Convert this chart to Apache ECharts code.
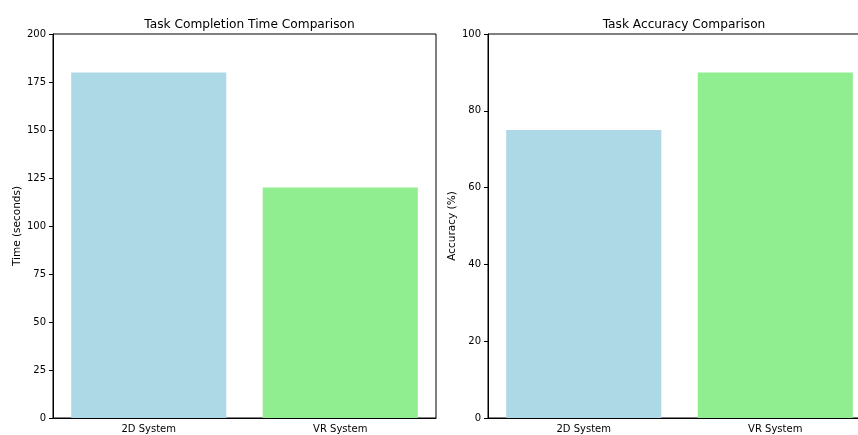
<!DOCTYPE html>
<html>
<head>
<meta charset="utf-8">
<script src="https://cdn.jsdelivr.net/npm/echarts@6/dist/echarts.min.js"></script>
<style>
html,body{margin:0;padding:0;background:#fff;overflow:hidden;width:858px;height:435px;}
#c{width:880px;height:435px;}
</style>
</head>
<body>
<div id="c"></div>
<script>
const categories = ['2D System', 'VR System'];
const timeValues = [180, 120];
const accuracyValues = [75, 90];
const barColors = ['#add8e6', '#90ee90'];
const titles = ['Task Completion Time Comparison', 'Task Accuracy Comparison'];
const yNames = ['Time (seconds)', 'Accuracy (%)'];

const FONT = 'DejaVu Sans';
const chart = echarts.init(document.getElementById('c'), null, {renderer: 'canvas'});

function xAxis(gi) {
  return {
    type: 'category', gridIndex: gi, data: categories,
    axisLine: {lineStyle: {color: '#000', width: 1}},
    axisTick: {alignWithLabel: true, length: 4, lineStyle: {color: '#000'}},
    axisLabel: {color: '#000', fontFamily: FONT, fontSize: 10, margin: 6}
  };
}
function yAxis(gi, max, interval, name) {
  return {
    type: 'value', gridIndex: gi, min: 0, max: max, interval: interval,
    name: name, nameLocation: 'middle', nameGap: 30, nameRotate: 90,
    nameTextStyle: {color: '#000', fontFamily: FONT, fontSize: 10.5},
    axisLine: {show: true, lineStyle: {color: '#000', width: 1}},
    axisTick: {show: true, length: 4, lineStyle: {color: '#000'}},
    axisLabel: {color: '#000', fontFamily: FONT, fontSize: 10, margin: 7},
    splitLine: {show: false}
  };
}
function mkData(vals) {
  return vals.map((v, i) => ({value: v, itemStyle: {color: barColors[i]}}));
}

chart.setOption({
  animation: false,
  backgroundColor: '#fff',
  title: [
    {text: titles[0], left: 244.5, top: 14, textAlign: 'center',
     textStyle: {fontFamily: FONT, fontSize: 12.2, fontWeight: 'normal', color: '#000'}},
    {text: titles[1], left: 679, top: 14, textAlign: 'center',
     textStyle: {fontFamily: FONT, fontSize: 12.2, fontWeight: 'normal', color: '#000'}}
  ],
  grid: [
    {left: 53, top: 34, width: 383, height: 384, containLabel: false, show: true, borderColor: '#000', borderWidth: 1},
    {left: 488, top: 34, width: 383, height: 384, containLabel: false, show: true, borderColor: '#000', borderWidth: 1}
  ],
  xAxis: [xAxis(0), xAxis(1)],
  yAxis: [yAxis(0, 200, 25, yNames[0]), yAxis(1, 100, 20, yNames[1])],
  series: [
    {type: 'bar', xAxisIndex: 0, yAxisIndex: 0, data: mkData(timeValues), barWidth: '81%'},
    {type: 'bar', xAxisIndex: 1, yAxisIndex: 1, data: mkData(accuracyValues), barWidth: '81%'}
  ]
});
</script>
</body>
</html>
